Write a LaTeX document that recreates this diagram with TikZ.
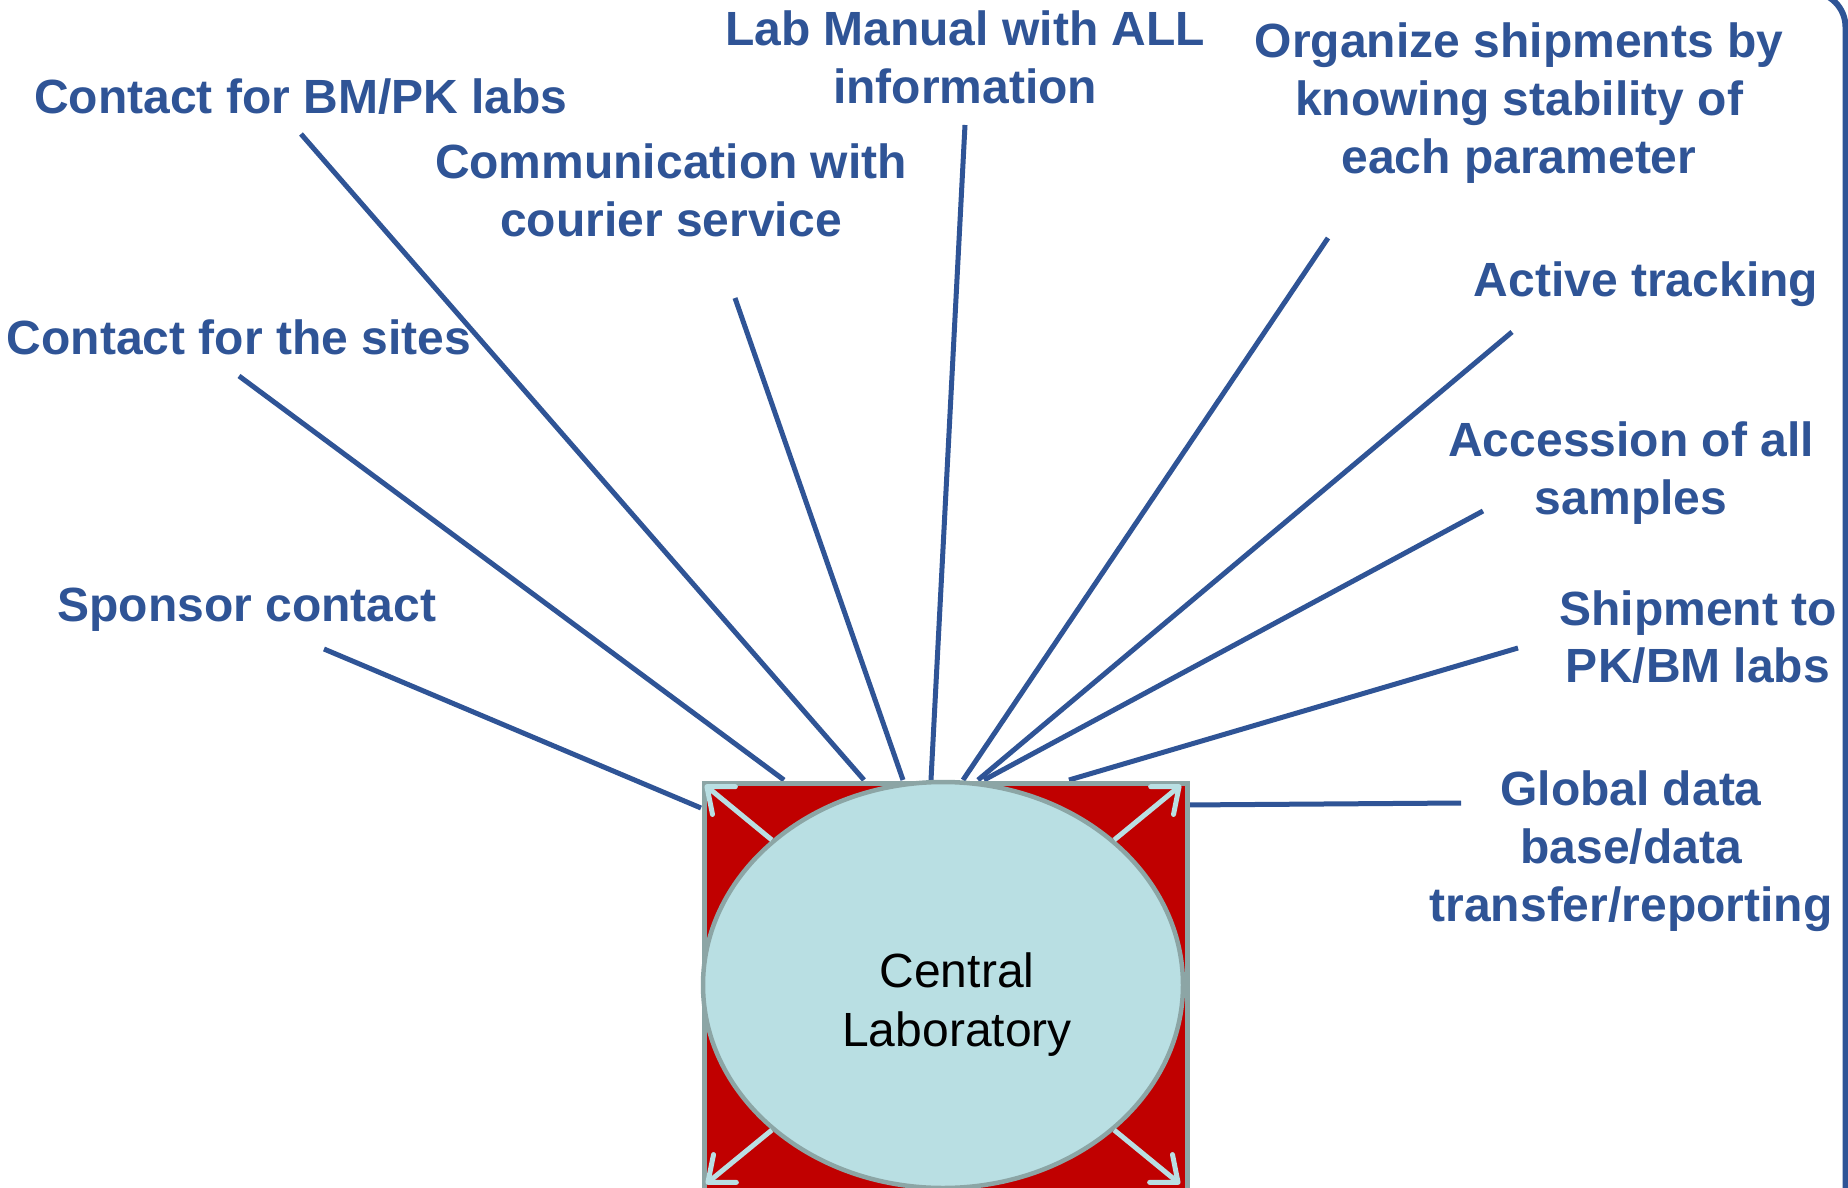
\documentclass[tikz,border=0pt]{standalone}
\usepackage{fontspec}
\setmainfont{Liberation Sans}
\usetikzlibrary{arrows.meta,shapes.geometric}
\definecolor{lblue}{RGB}{47,84,150}
\definecolor{lred}{RGB}{192,0,0}
\definecolor{lcyan}{RGB}{185,223,227}
\definecolor{lgray}{RGB}{140,165,165}
\begin{document}
\begin{tikzpicture}[x=1pt,y=-1pt,
  lbl/.style={text=lblue, font=\bfseries\fontsize{48}{57.7}\selectfont, align=center, inner sep=0pt},
  conn/.style={draw=lblue, line width=5pt},
  corner/.style={draw=lcyan, line width=5pt, -{Straight Barb[length=22pt,width=36pt,round]}}]
\useasboundingbox (0,0) rectangle (1848,1188);
\clip (0,0) rectangle (1848,1188);
\fill[white] (0,0) rectangle (1848,1188);
% frame
\draw[lblue, line width=6pt, rounded corners=35pt] (-20,-8) rectangle (1845.5,1300);

% labels
\node[lbl] (manual) at (965,57) {Lab Manual with ALL\\information};
\node[lbl] (bmpk) at (301,97) {Contact for BM/PK labs};
\node[lbl] (courier) at (671,190) {Communication with\\courier service};
\node[lbl] (organize) at (1519,103) {Organize shipments by\\knowing stability of\\each parameter};
\node[lbl] (tracking) at (1646,284) {Active tracking};
\node[lbl] (sites) at (239,337) {Contact for the sites};
\node[lbl] (accession) at (1631,473) {Accession of all\\samples};
\node[lbl] (sponsor) at (247,610) {Sponsor contact};
\node[lbl] (shipment) at (1698,637) {Shipment to\\PK/BM labs};
\node[lbl] (global) at (1631,851) {Global data\\base/data\\transfer/reporting};

% connector end points
\coordinate (s1) at (324,649);  \coordinate (e1) at (701,808);
\coordinate (s2) at (239,376);  \coordinate (e2) at (784,780);
\coordinate (s3) at (301,134);  \coordinate (e3) at (864,780);
\coordinate (s4) at (735,298);  \coordinate (e4) at (903,780);
\coordinate (s5) at (965,125);  \coordinate (e5) at (931,780);
\coordinate (s6) at (1328,238); \coordinate (e6) at (963,780);
\coordinate (s7) at (1512,332); \coordinate (e7) at (978,780);
\coordinate (s8) at (1483,511); \coordinate (e8) at (984,780);
\coordinate (s9) at (1518,648); \coordinate (e9) at (1069,780);
\coordinate (s10) at (1461,803); \coordinate (e10) at (1185,805);
\foreach \i in {1,...,10} {\draw[conn] (s\i) -- (e\i);}

% central laboratory
\node[draw=lgray, line width=5pt, fill=lred, minimum width=483pt, minimum height=440pt, inner sep=0pt, anchor=north west] (box) at (701.5,780.5) {};
\node[ellipse, draw=lgray, line width=4.5pt, fill=lcyan, minimum width=480pt, minimum height=406pt, inner sep=0pt] (lab) at (943,985) {};
\node[align=center, inner sep=0pt, font=\fontsize{48}{59}\selectfont] (labtext) at (957,1005) {Central\\Laboratory};
\coordinate (tl) at (705,785);
\coordinate (tr) at (1181,785);
\coordinate (bl) at (706,1184);
\coordinate (br) at (1180,1184);
\draw[corner] (lab.north west) -- (tl);
\draw[corner] (lab.north east) -- (tr);
\draw[corner] (lab.south west) -- (bl);
\draw[corner] (lab.south east) -- (br);
\end{tikzpicture}
\end{document}
